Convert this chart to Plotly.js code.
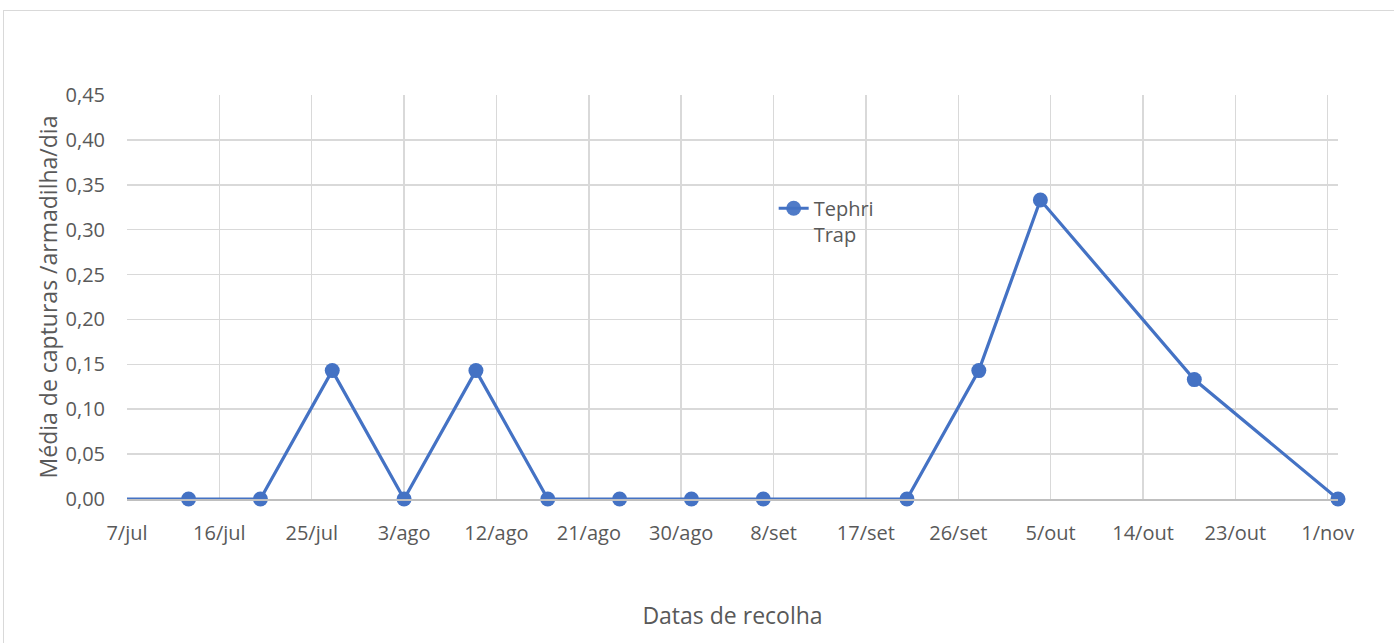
<!DOCTYPE html>
<html>
<head>
<meta charset="utf-8">
<script src="https://cdn.plot.ly/plotly-3.0.1.min.js"></script>
<style>
  html, body { margin: 0; padding: 0; background: #ffffff; overflow: hidden; }
  #chart { width: 1394px; height: 643px; position: absolute; left: 0; top: 0; }
  #frame { position: absolute; left: 3px; top: 10px; width: 1420px; height: 700px;
           border: 1.5px solid #d9d9d9; pointer-events: none; }
</style>
</head>
<body>
<div id="chart"></div>
<div id="frame"></div>
<script>
// Data
var dates = ['2019-07-06', '2019-07-13', '2019-07-20', '2019-07-27', '2019-08-03', '2019-08-10',
             '2019-08-17', '2019-08-24', '2019-08-31', '2019-09-07', '2019-09-21', '2019-09-28',
             '2019-10-04', '2019-10-19', '2019-11-02'];
var values = [0, 0, 0, 0.143, 0, 0.143, 0, 0, 0, 0, 0, 0.143, 0.333, 0.133, 0];
var markerShown = [false, true, true, true, true, true, true, true, true, true, true, true, true, true, true];

var tickDates = ['2019-07-07', '2019-07-16', '2019-07-25', '2019-08-03', '2019-08-12', '2019-08-21',
                 '2019-08-30', '2019-09-08', '2019-09-17', '2019-09-26', '2019-10-05', '2019-10-14',
                 '2019-10-23', '2019-11-01'];
var tickLabels = ['7/jul', '16/jul', '25/jul', '3/ago', '12/ago', '21/ago', '30/ago', '8/set',
                  '17/set', '26/set', '5/out', '14/out', '23/out', '1/nov'];

var seriesName = 'Tephri<br>Trap';
var xTitle = 'Datas de recolha';
var yTitle = 'Média de capturas /armadilha/dia';

var blue = '#4472C4';
var fontFam = '"Open Sans", "Noto Sans", sans-serif';
var txtColor = '#595959';

var trace = {
  x: dates,
  y: values,
  type: 'scatter',
  mode: 'lines+markers',
  name: seriesName,
  line: { color: blue, width: 3.2 },
  marker: { color: blue, size: 15, opacity: markerShown.map(function (s) { return s ? 1 : 0; }) },
  cliponaxis: false
};

var layout = {
  width: 1394,
  height: 643,
  paper_bgcolor: '#ffffff',
  plot_bgcolor: '#ffffff',
  margin: { l: 127, r: 56, t: 95, b: 144 },
  font: { family: fontFam, color: txtColor, size: 20 },
  separators: ', ',
  showlegend: true,
  legend: {
    x: 0.534, y: 0.768, xanchor: 'left', yanchor: 'top',
    valign: 'top',
    bgcolor: 'rgba(0,0,0,0)',
    font: { family: fontFam, size: 20, color: txtColor }
  },
  xaxis: {
    type: 'date',
    range: ['2019-07-07', '2019-11-02'],
    tickvals: tickDates,
    ticktext: tickLabels,
    showgrid: true,
    gridcolor: '#d9d9d9',
    gridwidth: 1.5,
    showline: true,
    linecolor: '#bfbfbf',
    linewidth: 1.5,
    zeroline: false,
    ticks: '',
    ticklabelstandoff: 15,
    tickfont: { family: fontFam, size: 20, color: txtColor },
    title: { text: xTitle, font: { family: fontFam, size: 23, color: txtColor }, standoff: 63 },
    automargin: false
  },
  yaxis: {
    range: [0, 0.45],
    tick0: 0,
    dtick: 0.05,
    tickformat: '.2f',
    showgrid: true,
    gridcolor: '#d9d9d9',
    gridwidth: 1.5,
    zeroline: false,
    showline: false,
    ticks: '',
    ticklabelstandoff: 21,
    tickfont: { family: fontFam, size: 20, color: txtColor },
    title: { text: yTitle, font: { family: fontFam, size: 23, color: txtColor }, standoff: 1 },
    automargin: false
  }
};

Plotly.newPlot('chart', [trace], layout, { displayModeBar: false, staticPlot: true });
</script>
</body>
</html>
